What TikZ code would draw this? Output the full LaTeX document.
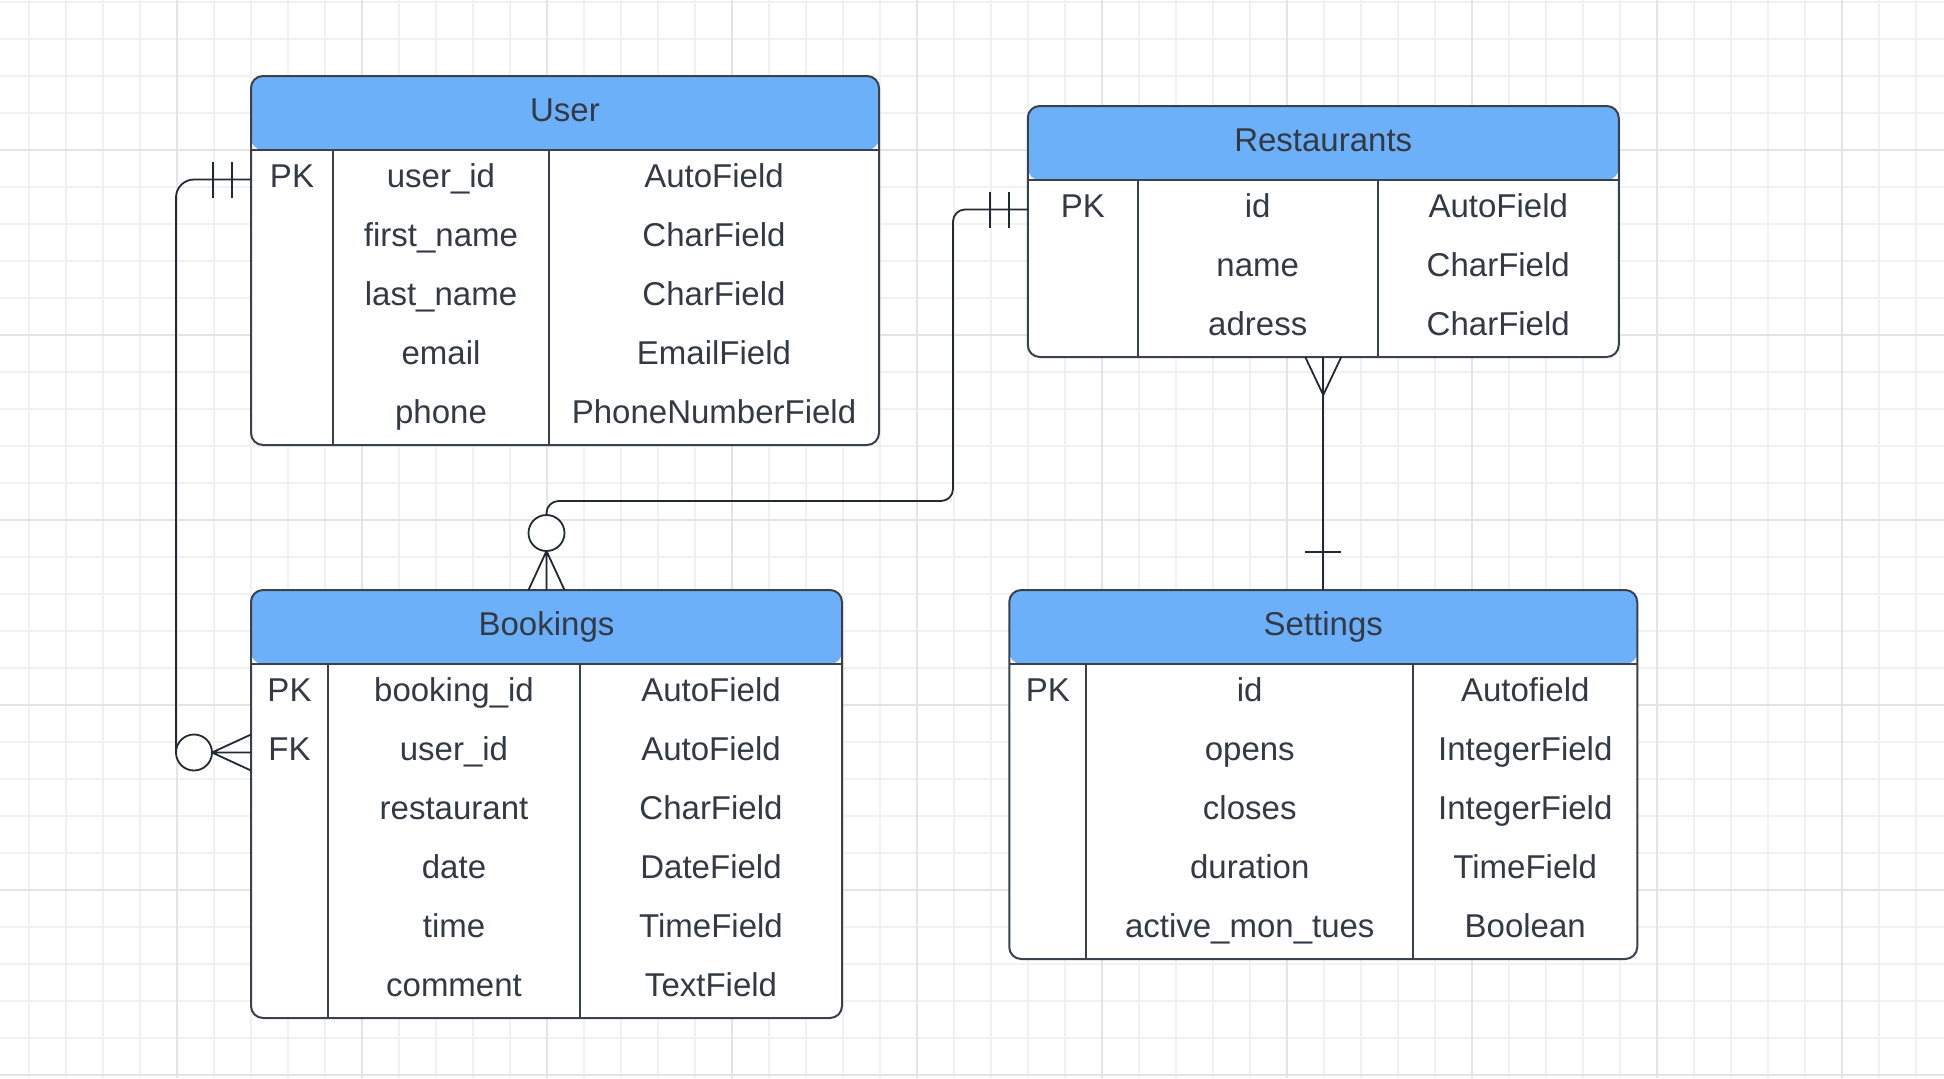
\documentclass[tikz,border=0pt]{standalone}
\usepackage{fontspec}
\setmainfont{Liberation Sans}
\usepackage{tikz}
\usetikzlibrary{positioning,calc}

\definecolor{headblue}{HTML}{6DB0FA}
\definecolor{inkgray}{HTML}{333A44}
\definecolor{edgegray}{HTML}{3A414B}
\definecolor{linedark}{HTML}{222933}
\definecolor{gridminor}{HTML}{F1F1F1}
\definecolor{gridmajor}{HTML}{E4E4E4}

\tikzset{
  tablebox/.style={draw=edgegray, line width=1pt, fill=white, rounded corners=6pt,
    inner sep=0pt, outer sep=0pt,
    path picture={\fill[headblue] (path picture bounding box.north west)
      rectangle ([yshift=-37pt]path picture bounding box.north east);}},
  titlecell/.style={text=inkgray, font=\fontsize{16.5}{20}\selectfont,
    minimum height=37pt, text height=12pt, text depth=3.7pt, inner sep=0pt},
  cell/.style={text=inkgray, font=\fontsize{16.5}{20}\selectfont,
    minimum height=29.5pt, text height=12pt, text depth=3.7pt, inner sep=0pt},
  divider/.style={draw=edgegray, line width=0.9pt},
  conn/.style={draw=linedark, line width=0.9pt},
  optcirc/.style={circle, draw=linedark, line width=0.9pt, fill=white,
    minimum size=18pt, inner sep=0pt},
}

\begin{document}
\begin{tikzpicture}[x=0.5pt, y=-0.5pt, node distance=0pt, outer sep=0pt]
    \useasboundingbox (0,0) rectangle (1944,1078);
    \fill[white] (0,0) rectangle (1944,1078);

    % grid
    \foreach \gx in {29,66,...,1944} \draw[gridminor, line width=0.6pt] (\gx,0) -- (\gx,1078);
    \foreach \gy in {2,39,...,1078} \draw[gridminor, line width=0.6pt] (0,\gy) -- (1944,\gy);
    \foreach \gx in {177,362,...,1944} \draw[gridmajor, line width=0.8pt] (\gx,0) -- (\gx,1078);
    \foreach \gy in {150,335,...,1078} \draw[gridmajor, line width=0.8pt] (0,\gy) -- (1944,\gy);

    % User
    \node[tablebox, minimum width=314pt, minimum height=184.5pt] (user) at (565,260.5) {};
    \node[titlecell, minimum width=314pt, below=of user.north] (user-title) {User};
    \node[cell, minimum width=41pt, below right=of user-title.south west] (u-k1) {PK};
    \node[cell, minimum width=108pt, right=of u-k1] (u-f1) {user\_id};
    \node[cell, minimum width=165pt, right=of u-f1] (u-t1) {AutoField};
    \node[cell, minimum width=108pt, below=of u-f1] (u-f2) {first\_name};
    \node[cell, minimum width=165pt, right=of u-f2] (u-t2) {CharField};
    \node[cell, minimum width=108pt, below=of u-f2] (u-f3) {last\_name};
    \node[cell, minimum width=165pt, right=of u-f3] (u-t3) {CharField};
    \node[cell, minimum width=108pt, below=of u-f3] (u-f4) {email};
    \node[cell, minimum width=165pt, right=of u-f4] (u-t4) {EmailField};
    \node[cell, minimum width=108pt, below=of u-f4] (u-f5) {phone};
    \node[cell, minimum width=165pt, right=of u-f5] (u-t5) {PhoneNumberField};
    \draw[divider] (user-title.south west) -- (user-title.south east);
    \draw[divider] (u-f1.north west) -- (u-f5.south west);
    \draw[divider] (u-t1.north west) -- (u-t5.south west);

    % Restaurants
    \node[tablebox, minimum width=295.5pt, minimum height=125.5pt] (rest) at (1323.25,231.5) {};
    \node[titlecell, minimum width=295.5pt, below=of rest.north] (rest-title) {Restaurants};
    \node[cell, minimum width=55pt, below right=of rest-title.south west] (r-k1) {PK};
    \node[cell, minimum width=120pt, right=of r-k1] (r-f1) {id};
    \node[cell, minimum width=120.5pt, right=of r-f1] (r-t1) {AutoField};
    \node[cell, minimum width=120pt, below=of r-f1] (r-f2) {name};
    \node[cell, minimum width=120.5pt, right=of r-f2] (r-t2) {CharField};
    \node[cell, minimum width=120pt, below=of r-f2] (r-f3) {adress};
    \node[cell, minimum width=120.5pt, right=of r-f3] (r-t3) {CharField};
    \draw[divider] (rest-title.south west) -- (rest-title.south east);
    \draw[divider] (r-f1.north west) -- (r-f3.south west);
    \draw[divider] (r-t1.north west) -- (r-t3.south west);

    % Bookings
    \node[tablebox, minimum width=295.5pt, minimum height=214pt] (book) at (546.5,804) {};
    \node[titlecell, minimum width=295.5pt, below=of book.north] (book-title) {Bookings};
    \node[cell, minimum width=38.5pt, below right=of book-title.south west] (b-k1) {PK};
    \node[cell, minimum width=38.5pt, below=of b-k1] (b-k2) {FK};
    \node[cell, minimum width=126pt, right=of b-k1] (b-f1) {booking\_id};
    \node[cell, minimum width=131pt, right=of b-f1] (b-t1) {AutoField};
    \node[cell, minimum width=126pt, below=of b-f1] (b-f2) {user\_id};
    \node[cell, minimum width=131pt, right=of b-f2] (b-t2) {AutoField};
    \node[cell, minimum width=126pt, below=of b-f2] (b-f3) {restaurant};
    \node[cell, minimum width=131pt, right=of b-f3] (b-t3) {CharField};
    \node[cell, minimum width=126pt, below=of b-f3] (b-f4) {date};
    \node[cell, minimum width=131pt, right=of b-f4] (b-t4) {DateField};
    \node[cell, minimum width=126pt, below=of b-f4] (b-f5) {time};
    \node[cell, minimum width=131pt, right=of b-f5] (b-t5) {TimeField};
    \node[cell, minimum width=126pt, below=of b-f5] (b-f6) {comment};
    \node[cell, minimum width=131pt, right=of b-f6] (b-t6) {TextField};
    \draw[divider] (book-title.south west) -- (book-title.south east);
    \draw[divider] (b-f1.north west) -- (b-f6.south west);
    \draw[divider] (b-t1.north west) -- (b-t6.south west);

    % Settings
    \node[tablebox, minimum width=314pt, minimum height=184.5pt] (sett) at (1323.25,774.5) {};
    \node[titlecell, minimum width=314pt, below=of sett.north] (sett-title) {Settings};
    \node[cell, minimum width=38.5pt, below right=of sett-title.south west] (s-k1) {PK};
    \node[cell, minimum width=163.5pt, right=of s-k1] (s-f1) {id};
    \node[cell, minimum width=112pt, right=of s-f1] (s-t1) {Autofield};
    \node[cell, minimum width=163.5pt, below=of s-f1] (s-f2) {opens};
    \node[cell, minimum width=112pt, right=of s-f2] (s-t2) {IntegerField};
    \node[cell, minimum width=163.5pt, below=of s-f2] (s-f3) {closes};
    \node[cell, minimum width=112pt, right=of s-f3] (s-t3) {IntegerField};
    \node[cell, minimum width=163.5pt, below=of s-f3] (s-f4) {duration};
    \node[cell, minimum width=112pt, right=of s-f4] (s-t4) {TimeField};
    \node[cell, minimum width=163.5pt, below=of s-f4] (s-f5) {active\_mon\_tues};
    \node[cell, minimum width=112pt, right=of s-f5] (s-t5) {Boolean};
    \draw[divider] (sett-title.south west) -- (sett-title.south east);
    \draw[divider] (s-f1.north west) -- (s-f5.south west);
    \draw[divider] (s-t1.north west) -- (s-t5.south west);

    % User 1 -- n Bookings
    \node[optcirc, left=19.5pt of b-k2.west] (ub-circ) {};
    \draw[conn, rounded corners=9pt] (u-k1.west) -| (ub-circ.west);
    \draw[conn] ([xshift=-19pt,yshift=9pt]u-k1.west) -- ([xshift=-19pt,yshift=-9pt]u-k1.west)
                ([xshift=-9.5pt,yshift=9pt]u-k1.west) -- ([xshift=-9.5pt,yshift=-9pt]u-k1.west);
    \draw[conn] (ub-circ.east) -- (b-k2.west)
                (ub-circ.east) -- ([yshift=9pt]b-k2.west)
                (ub-circ.east) -- ([yshift=-9pt]b-k2.west);

    % Restaurants 1 -- n Bookings
    \node[optcirc, above=19.5pt of book.north] (rb-circ) {};
    \coordinate (rb-bend) at (953,501);
    \draw[conn, rounded corners=6pt] (r-k1.west) -| (rb-bend) -| (rb-circ.north);
    \draw[conn] ([xshift=-19pt,yshift=9pt]r-k1.west) -- ([xshift=-19pt,yshift=-9pt]r-k1.west)
                ([xshift=-9.5pt,yshift=9pt]r-k1.west) -- ([xshift=-9.5pt,yshift=-9pt]r-k1.west);
    \draw[conn] (rb-circ.south) -- (book.north)
                (rb-circ.south) -- ([xshift=-9pt]book.north)
                (rb-circ.south) -- ([xshift=9pt]book.north);

    % Restaurants n -- 1 Settings
    \draw[conn] (rest.south) -- (sett.north);
    \draw[conn] ([yshift=-19pt]rest.south) -- ([xshift=-9pt]rest.south)
                ([yshift=-19pt]rest.south) -- ([xshift=9pt]rest.south);
    \draw[conn] ([xshift=-9pt,yshift=19pt]sett.north) -- ([xshift=9pt,yshift=19pt]sett.north);
\end{tikzpicture}
\end{document}
